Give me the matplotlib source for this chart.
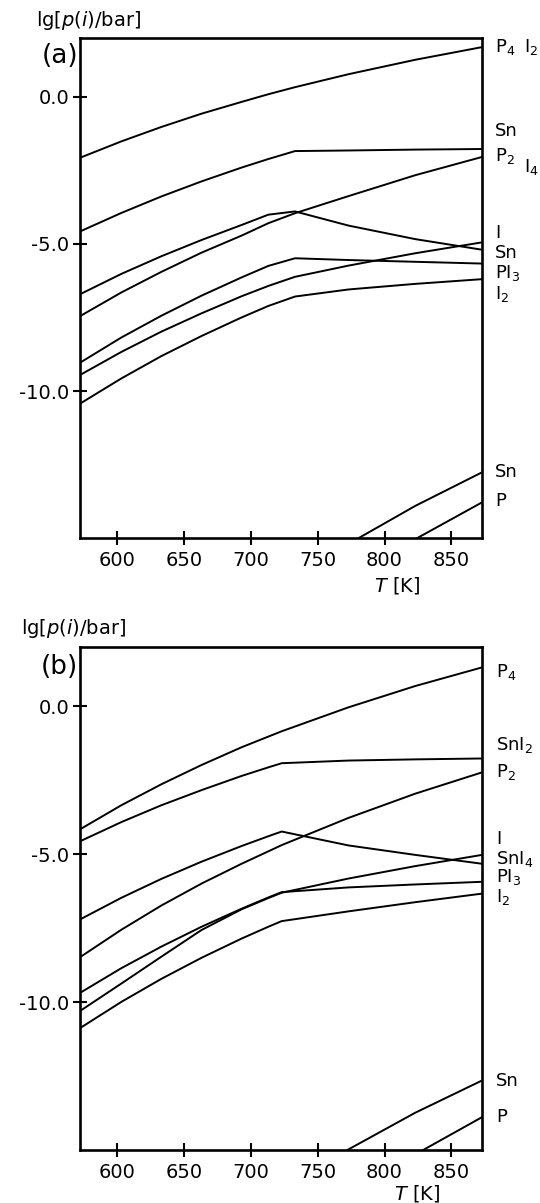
import matplotlib
matplotlib.use("Agg")
import matplotlib.pyplot as plt

# temperature grids [K]
T_a = [573, 603, 633, 663, 693, 713, 733, 773, 823, 873]
T_b = [573, 603, 633, 663, 693, 713, 723, 773, 823, 873]
T_sn_b = [723, 773, 823, 873]
T_low = [773, 823, 873]

# (a) lg[p(i)/bar]
P4_a = [-2.06, -1.52, -1.03, -0.58, -0.18, 0.08, 0.32, 0.76, 1.25, 1.68]
SnI2_a = [-4.56, -3.95, -3.39, -2.88, -2.41, -2.12, -1.85, -1.83, -1.80, -1.78]
SnI4_a = [-6.69, -6.02, -5.42, -4.87, -4.36, -4.01, -3.90, -4.38, -4.84, -5.20]
P2_a = [-7.43, -6.65, -5.95, -5.30, -4.72, -4.30, -3.96, -3.38, -2.67, -2.05]
PI3_a = [-9.01, -8.18, -7.44, -6.76, -6.14, -5.75, -5.49, -5.55, -5.61, -5.67]
I_a = [-9.43, -8.67, -7.98, -7.36, -6.78, -6.43, -6.12, -5.74, -5.32, -4.95]
I2_a = [-10.40, -9.57, -8.81, -8.13, -7.50, -7.11, -6.79, -6.55, -6.36, -6.20]
Sn_a = [-15.19, -13.90, -12.76]
P_a = [-16.45, -15.03, -13.78]

# (b) lg[p(i)/bar]
P4_b = [-4.13, -3.34, -2.63, -1.98, -1.38, -1.02, -0.84, -0.03, 0.69, 1.32]
SnI2_b = [-4.54, -3.91, -3.34, -2.83, -2.35, -2.06, -1.92, -1.83, -1.79, -1.76]
SnI4_b = [-7.18, -6.47, -5.83, -5.25, -4.72, -4.39, -4.23, -4.70, -5.02, -5.32]
P2_b = [-8.45, -7.55, -6.73, -5.99, -5.32, -4.90, -4.69, -3.77, -2.95, -2.23]
PI3_b = [-9.66, -8.85, -8.12, -7.45, -6.84, -6.46, -6.28, -6.12, -6.02, -5.93]
I_b = [-10.27, -9.37, -8.46, -7.56, -6.86, -6.48, -6.30, -5.82, -5.40, -5.02]
I2_b = [-10.85, -9.99, -9.21, -8.50, -7.85, -7.45, -7.26, -6.93, -6.62, -6.33]
Sn_b = [-16.38, -14.98, -13.74, -12.65]
P_b = [-16.60, -15.15, -13.89]

xticks = [600, 650, 700, 750, 800, 850]
yticks = [0, -5, -10]
ytick_labels = ["0.0", "-5.0", "-10.0"]

fig = plt.figure(figsize=(5.4, 12.03), dpi=100)
ax_a = fig.add_axes([80/540, 1 - 538.3/1203, 402/540, 500.6/1203])
ax_b = fig.add_axes([80/540, 1 - 1150/1203, 402/540, 502.7/1203])


def style(ax):
    ax.set_xlim(572, 873)
    ax.set_ylim(-15, 2)
    ax.set_xticks(xticks)
    ax.set_xticklabels([str(t) for t in xticks])
    ax.set_yticks(yticks)
    ax.set_yticklabels(ytick_labels)
    ax.tick_params(direction="inout", length=9.5, width=1.5, labelsize=14)
    ax.tick_params(axis="x", pad=4.5)
    ax.tick_params(axis="y", pad=3)
    for s in ax.spines.values():
        s.set_linewidth(1.9)


lw = 1.4
for y in [P4_a, SnI2_a, SnI4_a, P2_a, PI3_a, I_a, I2_a]:
    ax_a.plot(T_a, y, color="black", lw=lw)
ax_a.plot(T_low, Sn_a, color="black", lw=lw)
ax_a.plot(T_low, P_a, color="black", lw=lw)

for y in [P4_b, SnI2_b, SnI4_b, P2_b, PI3_b, I_b, I2_b]:
    ax_b.plot(T_b, y, color="black", lw=lw)
ax_b.plot(T_sn_b, Sn_b, color="black", lw=lw)
ax_b.plot(T_low, P_b, color="black", lw=lw)

style(ax_a)
style(ax_b)

# species labels on the right
lab_a = [("P$_4$", 1.032, 1.68), ("I$_2$", 1.104, 1.68), ("Sn", 1.032, -1.16),
         ("P$_2$", 1.032, -2.01), ("I$_4$", 1.104, -2.40), ("I", 1.032, -4.64),
         ("Sn", 1.032, -5.30), ("PI$_3$", 1.032, -5.98), ("I$_2$", 1.032, -6.69),
         ("Sn", 1.032, -12.76), ("P", 1.032, -13.74)]
lab_b = [("P$_4$", 1.035, 1.16), ("SnI$_2$", 1.035, -1.29), ("P$_2$", 1.035, -2.22),
         ("I", 1.035, -4.47), ("SnI$_4$", 1.035, -5.15), ("PI$_3$", 1.035, -5.77),
         ("I$_2$", 1.035, -6.46), ("Sn", 1.035, -12.65), ("P", 1.035, -13.89)]
for ax, labs in [(ax_a, lab_a), (ax_b, lab_b)]:
    for txt, x, y in labs:
        ax.text(x, y, txt, transform=ax.get_yaxis_transform(), ha="left",
                va="center", fontsize=13, clip_on=False)

ax_a.text(-0.005, 0.963, "(a)", transform=ax_a.transAxes, ha="right", va="center", fontsize=19)
ax_b.text(-0.005, 0.961, "(b)", transform=ax_b.transAxes, ha="right", va="center", fontsize=19)

ax_a.text(-0.109, 1.035, "lg[$p$($i$)/bar]", transform=ax_a.transAxes, ha="left", va="center", fontsize=14)
ax_b.text(-0.147, 1.038, "lg[$p$($i$)/bar]", transform=ax_b.transAxes, ha="left", va="center", fontsize=14)

ax_a.text(0.79, -0.094, "$T$ [K]", transform=ax_a.transAxes, ha="center", va="center", fontsize=14)
ax_b.text(0.838, -0.086, "$T$ [K]", transform=ax_b.transAxes, ha="center", va="center", fontsize=14)

fig.savefig("out.png", dpi=100)
